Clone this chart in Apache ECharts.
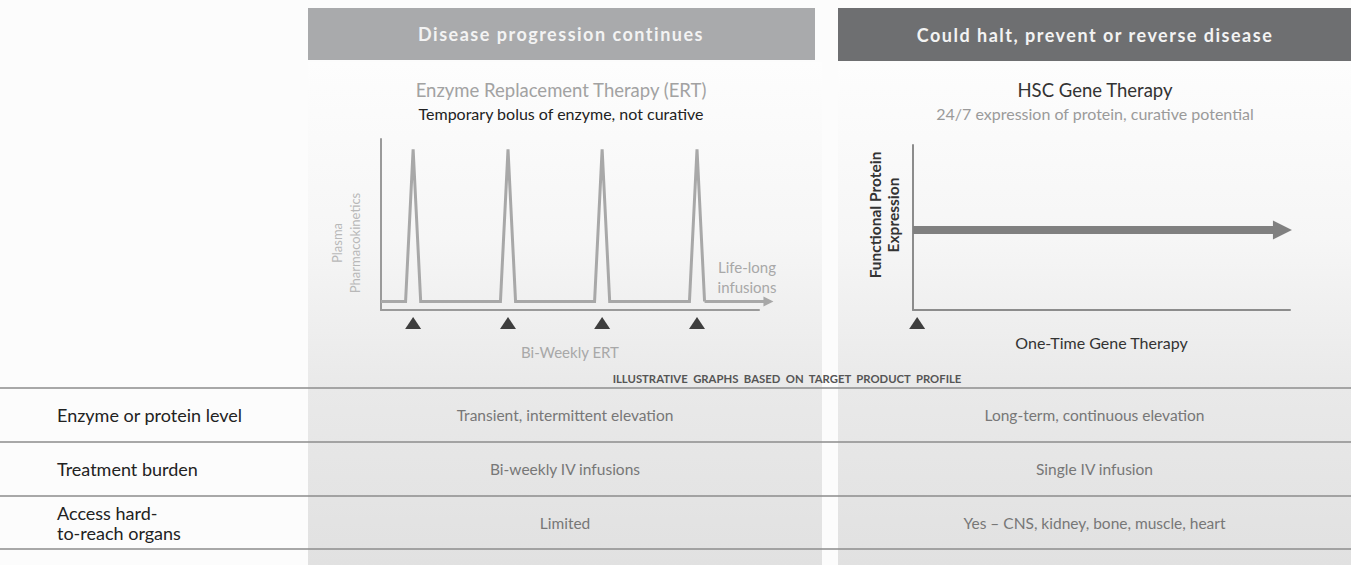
<!DOCTYPE html>
<html>
<head>
<meta charset="utf-8">
<script src="https://cdn.jsdelivr.net/npm/echarts@6/dist/echarts.min.js"></script>
<style>
  html, body { margin: 0; padding: 0; background: #fcfcfc; }
  #chart { width: 1351px; height: 565px; }
  #chart text[fill="#f3f3f3"] { letter-spacing: 1.5px; }
</style>
</head>
<body>
<div id="chart"></div>
<script>
// ---------- data ----------
var headerTexts = ['Disease progression continues', 'Could halt, prevent or reverse disease'];
var panelTitles = ['Enzyme Replacement Therapy (ERT)', 'HSC Gene Therapy'];
var panelSubtitles = ['Temporary bolus of enzyme, not curative', '24/7 expression of protein, curative potential'];

// ERT plasma level curve (time 0..100, level 0..1)
var ertTime  = [0, 6.5, 8.5, 10.5, 31.6, 33.6, 35.6, 56.5, 58.5, 60.5, 81.6, 83.6, 85.6];
var ertLevel = [0.05, 0.05, 0.94, 0.05, 0.05, 0.94, 0.05, 0.05, 0.94, 0.05, 0.05, 0.94, 0.05];
var ertTailEnd = 102.5;          // life-long infusions continue
var ertInfusions = [8.5, 33.6, 58.5, 83.6];

// HSC gene therapy protein expression
var hscStart = 0, hscEnd = 98, hscLevel = 0.485;
var hscInfusions = [1.1];

var rowLabels = ['Enzyme or protein level', 'Treatment burden', 'Access hard-\nto-reach organs'];
var ertCells  = ['Transient, intermittent elevation', 'Bi-weekly IV infusions', 'Limited'];
var hscCells  = ['Long-term, continuous elevation', 'Single IV infusion', 'Yes \u2013 CNS, kidney, bone, muscle, heart'];

var footnote = 'ILLUSTRATIVE  GRAPHS  BASED  ON  TARGET  PRODUCT  PROFILE';

// ---------- layout ----------
var FONT = 'Lato, "Open Sans", "Noto Sans", sans-serif';
var L = { x0: 308, x1: 822 }, R = { x0: 838, x1: 1351 };
var lc = (L.x0 + L.x1) / 2, rc = (R.x0 + R.x1) / 2;
var rowLines = [388, 442, 496, 549];

function txt(x, y, text, size, color, opts) {
  opts = opts || {};
  return {
    type: 'text', x: x, y: y, rotation: opts.rotation || 0, z: 20,
    style: {
      text: text, fill: color,
      font: (opts.weight || 'normal') + ' ' + size + 'px ' + FONT,
      textAlign: opts.align || 'center', textVerticalAlign: 'middle',
      lineHeight: opts.lineHeight || size * 1.2
    }
  };
}

var graphics = [];
function panelBg(p) {
  return {
    type: 'rect', z: 0, shape: { x: p.x0, y: 62, width: p.x1 - p.x0, height: 565 - 62 },
    style: { fill: { type: 'linear', x: 0, y: 0, x2: 0, y2: 1, colorStops: [
      { offset: 0, color: '#fdfdfd' }, { offset: 0.35, color: '#f6f6f6' },
      { offset: 0.65, color: '#e9e9e9' }, { offset: 1, color: '#e1e1e1' } ] } }
  };
}
graphics.push(panelBg(L), panelBg(R));
graphics.push({ type: 'rect', z: 1, shape: { x: 308, y: 8, width: 507, height: 52 }, style: { fill: '#a9aaac' } });
graphics.push({ type: 'rect', z: 1, shape: { x: 838, y: 8, width: 513, height: 53 }, style: { fill: '#6e6f71' } });
graphics.push(txt(561, 34, headerTexts[0], 18, '#f3f3f3', { weight: 'bold' }));
graphics.push(txt(1095, 35, headerTexts[1], 18, '#f3f3f3', { weight: 'bold' }));
graphics.push(txt(561, 90, panelTitles[0], 18.5, '#a2a2a2'));
graphics.push(txt(561, 113, panelSubtitles[0], 16, '#222222'));
graphics.push(txt(1095, 90, panelTitles[1], 18.5, '#333333'));
graphics.push(txt(1095, 113, panelSubtitles[1], 16, '#9a9a9a'));
// axis titles
graphics.push(txt(346, 243, 'Plasma\nPharmacokinetics', 13, '#b8b8b8', { rotation: Math.PI / 2, lineHeight: 18 }));
graphics.push(txt(884, 215, 'Functional Protein\nExpression', 15.5, '#333333', { rotation: Math.PI / 2, weight: 'bold', lineHeight: 18 }));
graphics.push(txt(747, 277, 'Life-long\ninfusions', 15, '#a8a8a8', { lineHeight: 20 }));
graphics.push(txt(787, 378, footnote, 11.3, '#555555', { weight: 'bold' }));
// table
rowLines.forEach(function (y) {
  graphics.push({ type: 'line', z: 5, shape: { x1: 0, y1: y, x2: 1351, y2: y }, style: { stroke: '#8c8c8c', lineWidth: 1.5 } });
});
for (var i = 0; i < rowLabels.length; i++) {
  var cy = (rowLines[i] + rowLines[i + 1]) / 2;
  graphics.push(txt(57, cy, rowLabels[i], 18, '#222222', { align: 'left', lineHeight: 20 }));
  graphics.push(txt(lc, cy, ertCells[i], 15.5, '#777777'));
  graphics.push(txt(rc, cy, hscCells[i], 15.5, '#777777'));
}

var axisCol = '#9a9a9a';
function hiddenAxis(extra) {
  return Object.assign({ type: 'value', axisLabel: { show: false }, axisTick: { show: false },
    splitLine: { show: false }, axisLine: { show: false } }, extra);
}

var option = {
  animation: false,
  backgroundColor: '#fcfcfc',
  graphic: graphics,
  grid: [
    { left: 381, top: 139, width: 378, height: 171 },   // ERT chart
    { left: 381, top: 316, width: 378, height: 14 },    // ERT infusion markers
    { left: 913, top: 145, width: 377, height: 165 },   // HSC chart
    { left: 913, top: 316, width: 377, height: 14 }     // HSC infusion marker
  ],
  xAxis: [
    hiddenAxis({ gridIndex: 0, min: 0, max: 100, axisLine: { show: true, onZero: false, lineStyle: { color: axisCol, width: 2 } } }),
    hiddenAxis({ gridIndex: 1, min: 0, max: 100, name: 'Bi-Weekly ERT', nameLocation: 'middle', nameGap: 14,
      nameTextStyle: { color: '#a8a8a8', fontSize: 15, fontFamily: FONT } }),
    hiddenAxis({ gridIndex: 2, min: 0, max: 100, axisLine: { show: true, onZero: false, lineStyle: { color: '#8c8c8c', width: 2 } } }),
    hiddenAxis({ gridIndex: 3, min: 0, max: 100, name: 'One-Time Gene Therapy', nameLocation: 'middle', nameGap: 4,
      nameTextStyle: { color: '#333333', fontSize: 16, fontFamily: FONT } })
  ],
  yAxis: [
    hiddenAxis({ gridIndex: 0, min: 0, max: 1, axisLine: { show: true, onZero: false, lineStyle: { color: axisCol, width: 2 } } }),
    hiddenAxis({ gridIndex: 1, min: 0, max: 1 }),
    hiddenAxis({ gridIndex: 2, min: 0, max: 1, axisLine: { show: true, onZero: false, lineStyle: { color: '#8c8c8c', width: 2 } } }),
    hiddenAxis({ gridIndex: 3, min: 0, max: 1 })
  ],
  series: [
    {
      name: 'ERT', type: 'line', xAxisIndex: 0, yAxisIndex: 0, z: 10,
      data: ertTime.map(function (t, k) { return [t, ertLevel[k]]; }),
      showSymbol: false, symbol: 'none', clip: false,
      lineStyle: { color: '#a8a8a8', width: 3, join: 'miter' }
    },
    {
      name: 'ERT tail', type: 'lines', coordinateSystem: 'cartesian2d', xAxisIndex: 0, yAxisIndex: 0, z: 10,
      clip: false, symbol: ['none', 'triangle'], symbolSize: 10,
      lineStyle: { color: '#a8a8a8', width: 3, opacity: 1, curveness: 0 },
      data: [{ coords: [[ertTime[ertTime.length - 1], ertLevel[ertLevel.length - 1]], [ertTailEnd, ertLevel[ertLevel.length - 1]]] }]
    },
    {
      name: 'ERT infusions', type: 'scatter', xAxisIndex: 1, yAxisIndex: 1, symbol: 'triangle', symbolSize: [16, 12],
      itemStyle: { color: '#111111' }, data: ertInfusions.map(function (t) { return [t, 0.5]; })
    },
    {
      name: 'HSC', type: 'lines', coordinateSystem: 'cartesian2d', xAxisIndex: 2, yAxisIndex: 2, z: 10,
      clip: false, symbol: ['none', 'triangle'], symbolSize: 19,
      lineStyle: { color: '#808080', width: 8, opacity: 1, curveness: 0 },
      data: [{ coords: [[hscStart, hscLevel], [hscEnd, hscLevel]] }]
    },
    {
      name: 'HSC infusion', type: 'scatter', xAxisIndex: 3, yAxisIndex: 3, symbol: 'triangle', symbolSize: [16, 12],
      itemStyle: { color: '#111111' }, data: hscInfusions.map(function (t) { return [t, 0.5]; })
    }
  ]
};

var chart = echarts.init(document.getElementById('chart'), null, { renderer: 'svg' });
chart.setOption(option);
</script>
</body>
</html>
